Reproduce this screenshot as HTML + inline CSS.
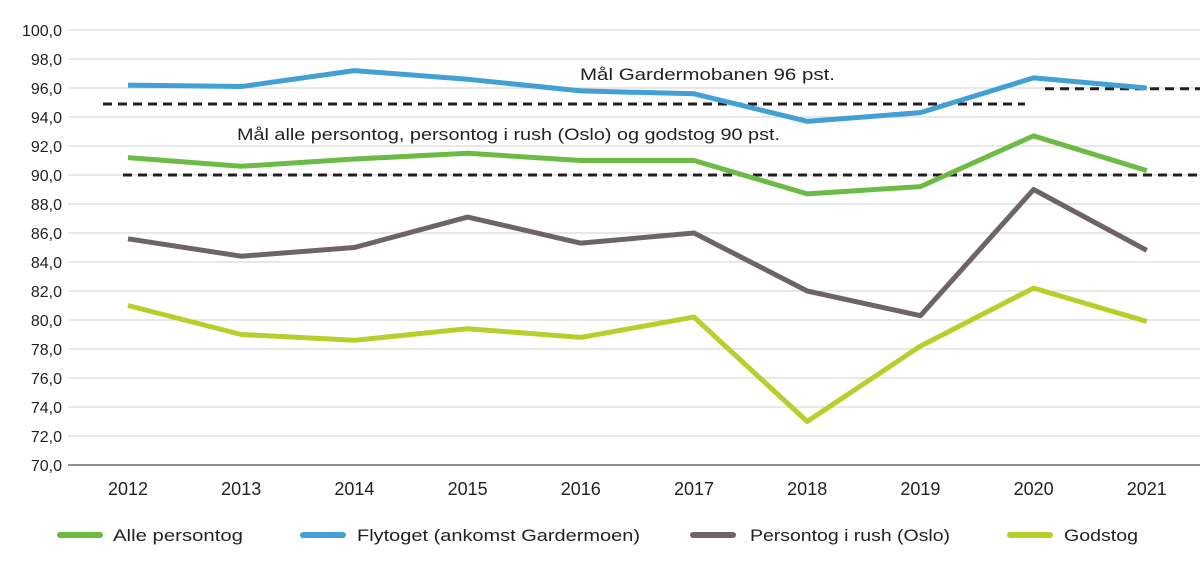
<!DOCTYPE html>
<html><head><meta charset="utf-8"><style>
body{margin:0;background:#fff;font-family:"Liberation Sans",sans-serif}
svg text{font-family:"Liberation Sans",sans-serif;fill:#231f20}
</style></head><body>
<svg width="1200" height="561">
<g id="grid"></g><g id="targets"></g><g id="series"></g><g id="legend"></g>
<text x="580" y="80" font-size="17" textLength="255" lengthAdjust="spacingAndGlyphs">Mål Gardermobanen 96 pst.</text>
<text x="237" y="140" font-size="17" textLength="543" lengthAdjust="spacingAndGlyphs">Mål alle persontog, persontog i rush (Oslo) og godstog 90 pst.</text>
</svg>
<script>
const years=[2012,2013,2014,2015,2016,2017,2018,2019,2020,2021];
const yTicks=[70,72,74,76,78,80,82,84,86,88,90,92,94,96,98,100];
const flytoget=[96.2,96.1,97.2,96.6,95.8,95.6,93.7,94.3,96.7,96.0];
const alle=[91.2,90.6,91.1,91.5,91.0,91.0,88.7,89.2,92.7,90.3];
const rush=[85.6,84.4,85.0,87.1,85.3,86.0,82.0,80.3,89.0,84.8];
const gods=[81.0,79.0,78.6,79.4,78.8,80.2,73.0,78.2,82.2,79.9];
const seriesNames=["Alle persontog","Flytoget (ankomst Gardermoen)","Persontog i rush (Oslo)","Godstog"];
const NS="http://www.w3.org/2000/svg";
const y=v=>465-(v-70)*14.5;
const x=i=>128+i*113.2;
function mk(p,t,a){const e=document.createElementNS(NS,t);for(const k in a)e.setAttribute(k,a[k]);p.appendChild(e);return e;}
const grid=document.getElementById('grid');
yTicks.forEach(v=>{
 const l=mk(grid,'line',{x1:68,x2:1200,y1:y(v),y2:y(v),stroke:v===70?'#231f20':'#d0d0d0','stroke-width':1});
 
 
 const t=mk(grid,'text',{x:62,y:y(v)+6,'text-anchor':'end','font-size':16});
 t.textContent=v.toFixed(1).replace('.',',');
 
 
});
years.forEach((yr,i)=>{
 const t=mk(grid,'text',{x:x(i),y:495,'text-anchor':'middle','font-size':18});
 t.textContent=yr;
 
 
});
const tg=document.getElementById('targets');
[[103,1025,94.9],[1045,1200,95.95],[123,1200,90]].forEach(d=>{
 const l=mk(tg,'line',{x1:d[0],x2:d[1],y1:y(d[2]),y2:y(d[2]),stroke:'#231f20','stroke-width':3,'stroke-dasharray':'9,6'});
 
 
});
const sg=document.getElementById('series');
const data=[alle,flytoget,rush,gods];
const cols=['#6cbb45','#43a0d5','#6e6465','#b6cf2b'];
const ids=['series-alle-persontog','series-flytoget','series-rush-oslo','series-godstog'];
[1,0,2,3].forEach(k=>{
 const p=mk(sg,'polyline',{points:data[k].map((v,i)=>x(i)+','+y(v)).join(' '),fill:'none',stroke:cols[k],'stroke-width':5,'stroke-linejoin':'round'});
 
 
});
const lg=document.getElementById('legend');
const lx=[60,303,693,1010];
const tx=[113,357,750,1064];
const tw=[130,283,200,74];
seriesNames.forEach((n,k)=>{
 const l=mk(lg,'line',{x1:lx[k],x2:lx[k]+40,y1:535,y2:535,stroke:cols[k],'stroke-width':6,'stroke-linecap':'round'});
 
 
 const t=mk(lg,'text',{x:tx[k],y:541,'font-size':17,textLength:tw[k],lengthAdjust:'spacingAndGlyphs'});
 t.textContent=n;
 
 
});
</script>
</body></html>
